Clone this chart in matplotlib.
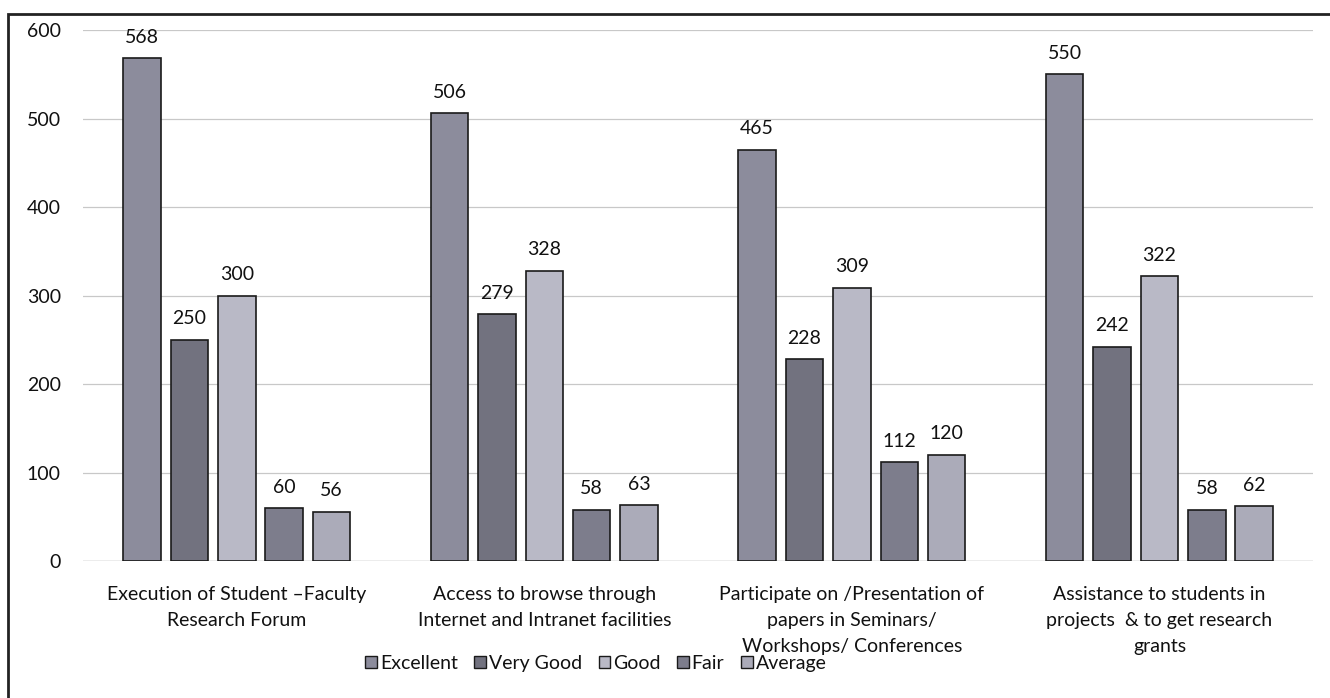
import matplotlib
matplotlib.use("Agg")
import matplotlib.pyplot as plt
import numpy as np
from matplotlib.patches import Rectangle

categories = [
    "Execution of Student \u2013Faculty\nResearch Forum",
    "Access to browse through\nInternet and Intranet facilities",
    "Participate on /Presentation of\npapers in Seminars/\nWorkshops/ Conferences",
    "Assistance to students in\nprojects  & to get research\ngrants",
]
series_names = ["Excellent", "Very Good", "Good", "Fair", "Average"]
excellent = [568, 506, 465, 550]
very_good = [250, 279, 228, 242]
good = [300, 328, 309, 322]
fair = [60, 58, 112, 58]
average = [56, 63, 120, 62]
yticks = [0, 100, 200, 300, 400, 500, 600]

series = [excellent, very_good, good, fair, average]
colors = ["#8c8c9c", "#72727f", "#b9b9c6", "#7d7d8c", "#ababb9"]

plt.rcParams['font.family'] = ['Lato', 'DejaVu Sans']
FS = 14
TXT = "#111111"

fig = plt.figure(figsize=(13.3, 6.98), dpi=100)
ax = fig.add_axes([0.0624, 0.196, 0.925, 0.761])

x = np.arange(len(categories)) + 0.5
width = 0.122
pitch = 0.154
for i, (vals, name, col) in enumerate(zip(series, series_names, colors)):
    pos = x + (i - 2) * pitch
    bars = ax.bar(pos, vals, width=width, color=col, edgecolor="#1a1a1a",
                  linewidth=1.2, label=name, zorder=3)
    for b, v in zip(bars, vals):
        ax.annotate(str(v), (b.get_x() + b.get_width() / 2, v),
                    xytext=(0, 9), textcoords="offset points",
                    ha="center", va="bottom", fontsize=FS, color=TXT)

ax.set_xlim(0, len(categories))
ax.set_ylim(0, 600)
ax.set_yticks(yticks)
ax.set_yticklabels([str(t) for t in yticks], fontsize=FS, color=TXT)
ax.set_xticks(x)
ax.set_xticklabels(categories, fontsize=FS, color=TXT, linespacing=1.65)
ax.tick_params(axis="both", length=0)
ax.tick_params(axis="y", pad=16)
ax.tick_params(axis="x", pad=18)
ax.yaxis.grid(True, color="#c8c8c8", linewidth=0.9, zorder=0)
ax.set_axisbelow(True)
for s in ax.spines.values():
    s.set_visible(False)
ax.axhline(0, color="#bbbbbb", linewidth=1.0, zorder=2)

leg = fig.legend(loc="center", bbox_to_anchor=(0.448, 0.05), ncol=5, frameon=False,
                 fontsize=FS, handlelength=0.6, handleheight=0.6,
                 handletextpad=0.15, columnspacing=0.85)
for h in leg.legend_handles:
    h.set_linewidth(1.0)
for t in leg.get_texts():
    t.set_color(TXT)

# outer frame (scan border)
fig.patches.append(Rectangle((8 / 1330, -0.05), 1.2, 1.05 - 14 / 698,
                             transform=fig.transFigure, fill=False,
                             edgecolor="#222222", linewidth=2.0))

fig.savefig("out.png", dpi=100)
